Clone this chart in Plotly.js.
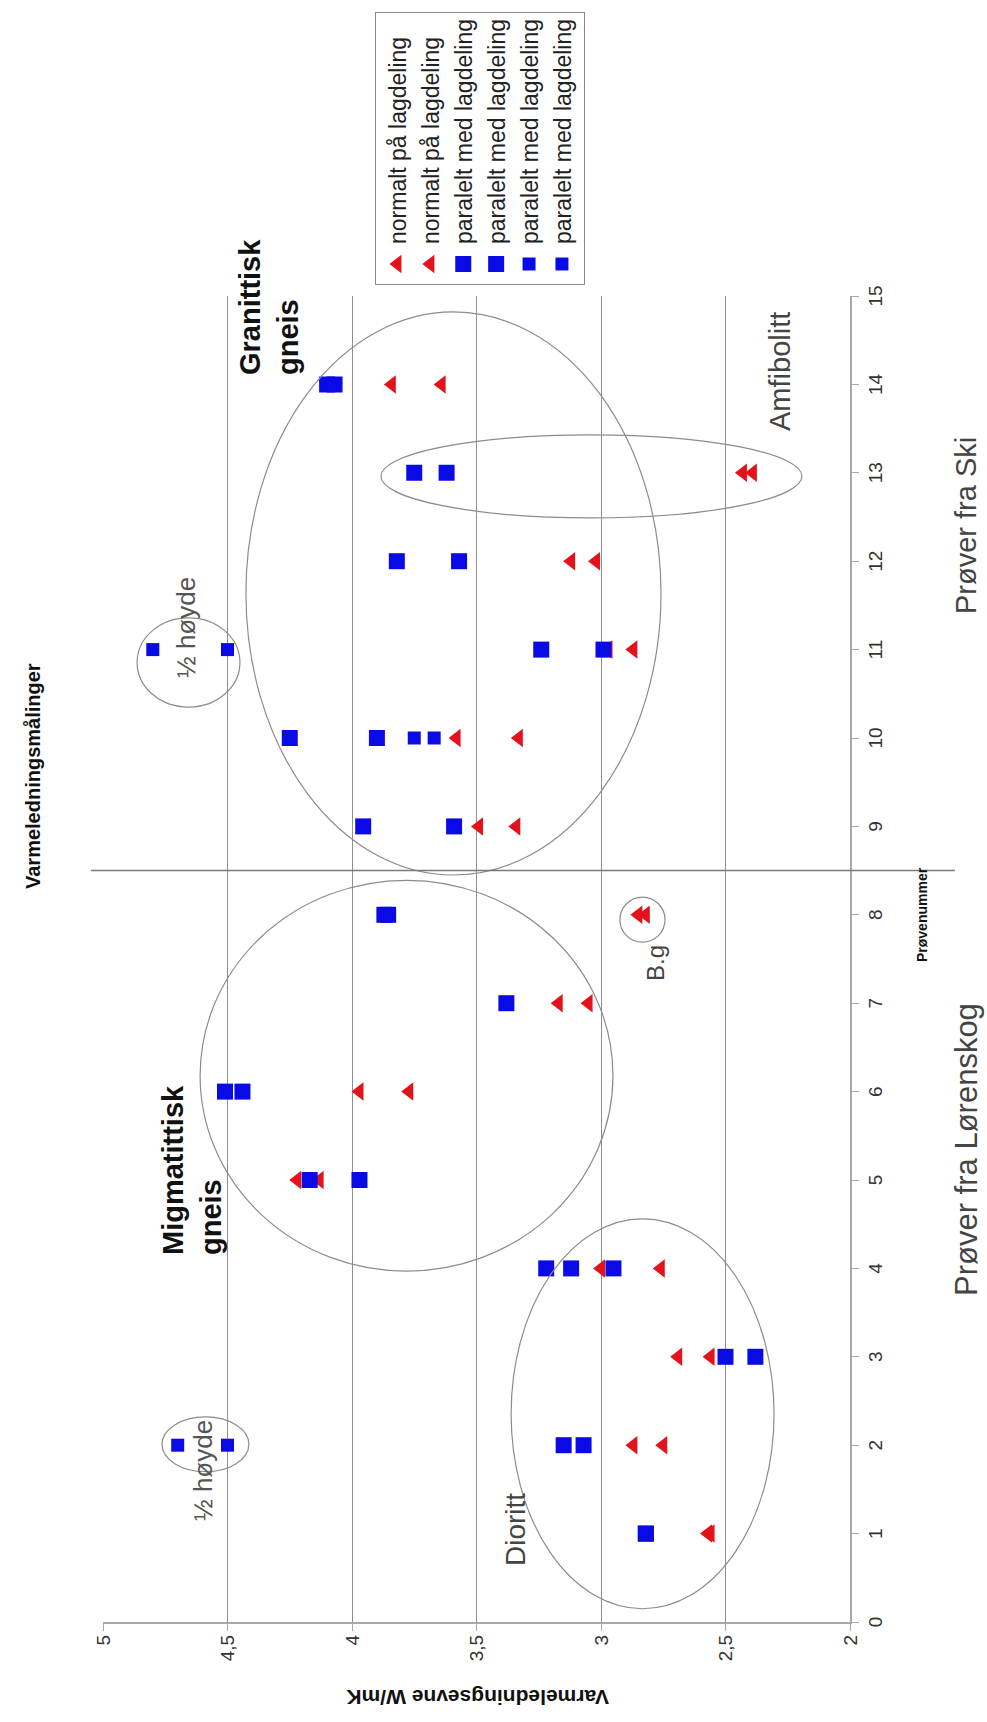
<!DOCTYPE html>
<html>
<head>
<meta charset="utf-8">
<script src="https://cdn.plot.ly/plotly-3.0.1.min.js"></script>
<style>
html,body{margin:0;padding:0;background:#fff;overflow:hidden;width:987px;height:1722px;}
#wrap{position:absolute;left:0;top:0;width:1722px;height:987px;transform-origin:0 0;transform:translate(0px,1722px) rotate(-90deg);}
#chart{width:1722px;height:987px;}
</style>
</head>
<body>
<div id="wrap"><div id="chart"></div></div>
<script>
// ---- data ----
const samples = [1,2,3,4,5,6,7,8,9,10,11,12,13,14];
const normalA = [2.57,2.87,2.69,3.00,4.22,3.97,3.17,2.85,3.49,3.58,2.97,3.12,2.43,3.84];
const normalB = [2.56,2.75,2.56,2.76,4.13,3.77,3.05,2.82,3.34,3.33,2.87,3.02,2.39,3.64];
const parA_x = [1,2,3,4,5,6,7,8,9,10,11,12,13,14];
const parA_y = [2.82,3.15,2.50,3.22,4.17,4.51,3.38,3.87,3.955,4.25,3.24,3.82,3.75,4.10];
const parB_x = [1,2,3,4,4,5,6,8,9,10,11,12,13,14];
const parB_y = [2.82,3.07,2.38,3.12,2.95,3.97,4.44,3.855,3.59,3.90,2.99,3.57,3.62,4.07];
const parC_x = [2,10,11];
const parC_y = [4.70,3.75,4.80];
const parD_x = [2,10,11];
const parD_y = [4.50,3.67,4.50];
const xTicks = [0,1,2,3,4,5,6,7,8,9,10,11,12,13,14,15];
const yTicks = [2,2.5,3,3.5,4,4.5,5];
const yTickText = ['2','2,5','3','3,5','4','4,5','5'];
const legendNormal = 'normalt på lagdeling';
const legendParallel = 'paralelt med lagdeling';

// ---- layout geometry (unrotated frame) ----
const W = 1722, H = 987, L = 100, R = 296, T = 103, B = 137;
const PW = W - L - R, PH = H - T - B;
function px(x){ return (x - L) / PW; }
function py(y){ return (H - B - y) / PH; }

const FONT = 'Arial, "Liberation Sans", sans-serif';
const RED = '#e3121b', BLUE = '#0a0ae6';

function tri(yv, name){
  return {x: samples, y: yv, type:'scatter', mode:'markers', name:name,
    marker:{symbol:'triangle-up', size:16, color:RED}};
}
function sq(xv, yv, name, size){
  return {x: xv, y: yv, type:'scatter', mode:'markers', name:name,
    marker:{symbol:'square', size:size, color:BLUE}};
}
const data = [
  tri(normalA, legendNormal),
  tri(normalB, legendNormal),
  sq(parA_x, parA_y, legendParallel, 16),
  sq(parB_x, parB_y, legendParallel, 16),
  sq(parC_x, parC_y, legendParallel, 13),
  sq(parD_x, parD_y, legendParallel, 13)
];

const ell = (x0,x1,y0,y1) => ({type:'circle', xref:'x', yref:'y', x0:x0, x1:x1, y0:y0, y1:y1,
  line:{color:'#8c8c8c', width:1.2}});

const shapes = [
  ell(1.70,2.32,4.414,4.763),
  ell(10.35,11.36,4.45,4.863),
  ell(7.69,8.20,2.743,2.924),
  ell(0.15,4.56,2.305,3.361),
  ell(3.97,8.39,2.952,4.61),
  ell(8.45,14.82,2.759,4.426),
  ell(12.49,13.43,2.193,3.884),
  {type:'line', xref:'x', yref:'paper', x0:8.5, x1:8.5, y0:py(955), y1:py(91),
   line:{color:'#7a7a7a', width:1.5}}
];

const ann = (o) => Object.assign({showarrow:false, font:{family:FONT, size:28, color:'#444'}}, o);
const annotations = [
  ann({xref:'paper', yref:'paper', x:px(946), y:py(33), text:'<b>Varmeledningsmålinger</b>',
       xanchor:'center', yanchor:'middle', font:{family:FONT, size:20, color:'#111'}}),
  ann({xref:'paper', yref:'paper', x:px(807), y:py(922), text:'<b>Prøvenummer</b>',
       xanchor:'center', yanchor:'middle', font:{family:FONT, size:14, color:'#111'}}),
  ann({xref:'paper', yref:'paper', x:px(24), y:py(478), text:'<b>Varmeledningsevne W/mK</b>', textangle:-90,
       xanchor:'center', yanchor:'middle', font:{family:FONT, size:21, color:'#111'}}),
  ann({xref:'paper', yref:'paper', x:px(572), y:py(966), text:'Prøver fra Lørenskog',
       xanchor:'center', yanchor:'middle', font:{family:FONT, size:31, color:'#444'}}),
  ann({xref:'paper', yref:'paper', x:px(1196), y:py(966), text:'Prøver fra Ski',
       xanchor:'center', yanchor:'middle', font:{family:FONT, size:29, color:'#444'}}),
  ann({xref:'x', yref:'y', x:4.13, y:4.79, text:'<b>Migmatittisk<br>gneis</b>', align:'left',
       xanchor:'left', yanchor:'top', font:{family:FONT, size:29, color:'#111'}}),
  ann({xref:'x', yref:'y', x:14.08, y:4.48, text:'<b>Granittisk<br>gneis</b>', align:'left',
       xanchor:'left', yanchor:'top', font:{family:FONT, size:29, color:'#111'}}),
  ann({xref:'x', yref:'y', x:0.61, y:3.345, text:'Dioritt', xanchor:'left', yanchor:'middle'}),
  ann({xref:'x', yref:'y', x:13.45, y:2.28, text:'Amfibolitt', xanchor:'left', yanchor:'middle',
       font:{family:FONT, size:29, color:'#444'}}),
  ann({xref:'x', yref:'y', x:7.23, y:2.78, text:'B.g', xanchor:'left', yanchor:'middle',
       font:{family:FONT, size:24, color:'#444'}}),
  ann({xref:'x', yref:'y', x:1.12, y:4.60, text:'½ høyde', xanchor:'left', yanchor:'middle',
       font:{family:FONT, size:26, color:'#555'}}),
  ann({xref:'x', yref:'y', x:10.66, y:4.667, text:'½ høyde', xanchor:'left', yanchor:'middle',
       font:{family:FONT, size:26, color:'#555'}})
];

const layout = {
  width: W, height: H,
  margin:{l:L, r:R, t:T, b:B, pad:0},
  paper_bgcolor:'#fff', plot_bgcolor:'#fff',
  font:{family:FONT, color:'#333'},
  showlegend:true,
  legend:{x:px(1437), y:py(375), xanchor:'left', yanchor:'top', traceorder:'normal',
    bgcolor:'#fff', bordercolor:'#8c8c8c', borderwidth:1, font:{family:FONT, size:23, color:'#222'}},
  xaxis:{range:[0,15], tickmode:'array', tickvals:xTicks, showgrid:false, zeroline:false,
    showline:true, linecolor:'#a8a8a8', linewidth:2, ticks:'outside', ticklen:7, tickcolor:'#a8a8a8',
    tickfont:{family:FONT, size:19, color:'#333'}},
  yaxis:{range:[2,5], tickmode:'array', tickvals:yTicks, ticktext:yTickText, showgrid:true,
    gridcolor:'#8f8f8f', gridwidth:1, zeroline:false,
    showline:true, linecolor:'#a8a8a8', linewidth:2, ticks:'outside', ticklen:7, tickcolor:'#a8a8a8',
    tickfont:{family:FONT, size:19, color:'#333'}},
  shapes: shapes,
  annotations: annotations
};

Plotly.newPlot('chart', data, layout, {displayModeBar:false, staticPlot:true, responsive:false});
</script>
</body>
</html>
